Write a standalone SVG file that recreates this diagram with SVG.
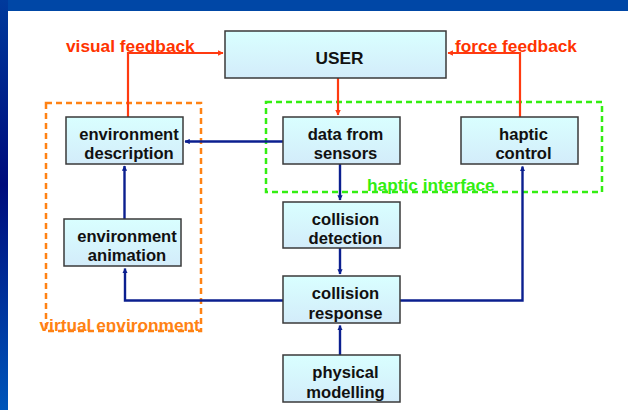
<svg xmlns="http://www.w3.org/2000/svg" width="628" height="410" viewBox="0 0 628 410">
<defs>
<linearGradient id="boxg" x1="0" y1="0" x2="0" y2="1">
<stop offset="0" stop-color="#d9ffff"/>
<stop offset="1" stop-color="#d3ecfa"/>
</linearGradient>
<linearGradient id="sideg" x1="0" y1="0" x2="0" y2="1">
<stop offset="0" stop-color="#003a9c"/>
<stop offset="0.45" stop-color="#000c7c"/>
<stop offset="1" stop-color="#0056ba"/>
</linearGradient>
<marker id="an" viewBox="0 0 10 10" refX="9" refY="5" markerWidth="2.2" markerHeight="2.2" orient="auto" markerUnits="strokeWidth">
<path d="M0,0 L10,5 L0,10 z" fill="#0b1f8f"/>
</marker>
<marker id="ar" viewBox="0 0 10 10" refX="9" refY="5" markerWidth="2.5" markerHeight="2.5" orient="auto" markerUnits="strokeWidth">
<path d="M0,0 L10,5 L0,10 z" fill="#ff3a10"/>
</marker>
<style>
.box{fill:url(#boxg);stroke:#3a3a3a;stroke-width:1.5}
.t{font-family:"Liberation Sans",Arial,sans-serif;font-weight:bold;font-size:16.6px;fill:#111;text-anchor:middle}
.lbl{font-family:"Liberation Sans",Arial,sans-serif;font-weight:bold;font-size:17.3px}
.nv{fill:none;stroke:#0b1f8f;stroke-width:2.4;marker-end:url(#an)}
.rd{fill:none;stroke:#ff3a10;stroke-width:2.2;marker-end:url(#ar)}
</style>
</defs>
<rect x="0" y="0" width="628" height="410" fill="#ffffff"/>
<rect x="0" y="0" width="628" height="11" fill="#0047a6"/>
<rect x="0" y="0" width="8" height="410" fill="url(#sideg)"/>

<g id="groups">
<rect x="46" y="103" width="155" height="228" fill="none" stroke="#ff8214" stroke-width="2.5" stroke-dasharray="6,4"/>
<rect x="266" y="102" width="336" height="90" fill="none" stroke="#33ee11" stroke-width="2.5" stroke-dasharray="6,4"/>
</g>

<g id="connectors">
<polyline class="rd" points="128,117 128,53 223,53"/>
<polyline class="rd" points="520,117 520,53 448,53"/>
<polyline class="rd" points="338,78 338,115"/>
<polyline class="nv" points="283,141.5 185,141.5"/>
<polyline class="nv" points="124.5,219 124.5,166"/>
<polyline class="nv" points="340,164 340,200"/>
<polyline class="nv" points="340,248 340,274"/>
<polyline class="nv" points="340,355 340,325.5"/>
<polyline class="nv" points="283,300.5 125,300.5 125,268.5"/>
<polyline class="nv" points="400,300.5 522.5,300.5 522.5,166.5"/>
</g>

<g id="user"><rect class="box" x="225" y="31" width="221" height="47"/><text class="t" x="339.5" y="63.5" style="font-size:17.3px">USER</text></g>
<g id="env-description"><rect class="box" x="66" y="117" width="117" height="47"/><text class="t" x="129" y="139.5">environment</text><text class="t" x="129" y="159">description</text></g>
<g id="data-sensors"><rect class="box" x="283" y="117" width="117" height="47"/><text class="t" x="345.5" y="139.5">data from</text><text class="t" x="345.5" y="159">sensors</text></g>
<g id="haptic-control"><rect class="box" x="461" y="117" width="117" height="47"/><text class="t" x="523.5" y="139.5">haptic</text><text class="t" x="523.5" y="159">control</text></g>
<g id="env-animation"><rect class="box" x="64" y="219" width="117" height="47"/><text class="t" x="127" y="241.5">environment</text><text class="t" x="127" y="261">animation</text></g>
<g id="collision-detection"><rect class="box" x="283" y="202" width="117" height="46"/><text class="t" x="345.5" y="224.5">collision</text><text class="t" x="345.5" y="244">detection</text></g>
<g id="collision-response"><rect class="box" x="283" y="276" width="117" height="47"/><text class="t" x="345.5" y="299">collision</text><text class="t" x="345.5" y="318.5">response</text></g>
<g id="physical-modelling"><rect class="box" x="283" y="355" width="117" height="47"/><text class="t" x="345.5" y="378">physical</text><text class="t" x="345.5" y="397.5">modelling</text></g>

<g id="labels">
<text class="lbl" x="66" y="51.5" fill="#ff3300">visual feedback</text>
<text class="lbl" x="455" y="51.5" fill="#ff3300">force feedback</text>
<text class="lbl" x="367" y="191" fill="#33ee11">haptic interface</text>
<text class="lbl" x="39.5" y="331" fill="#ff8214">virtual environment</text>
</g>
</svg>
